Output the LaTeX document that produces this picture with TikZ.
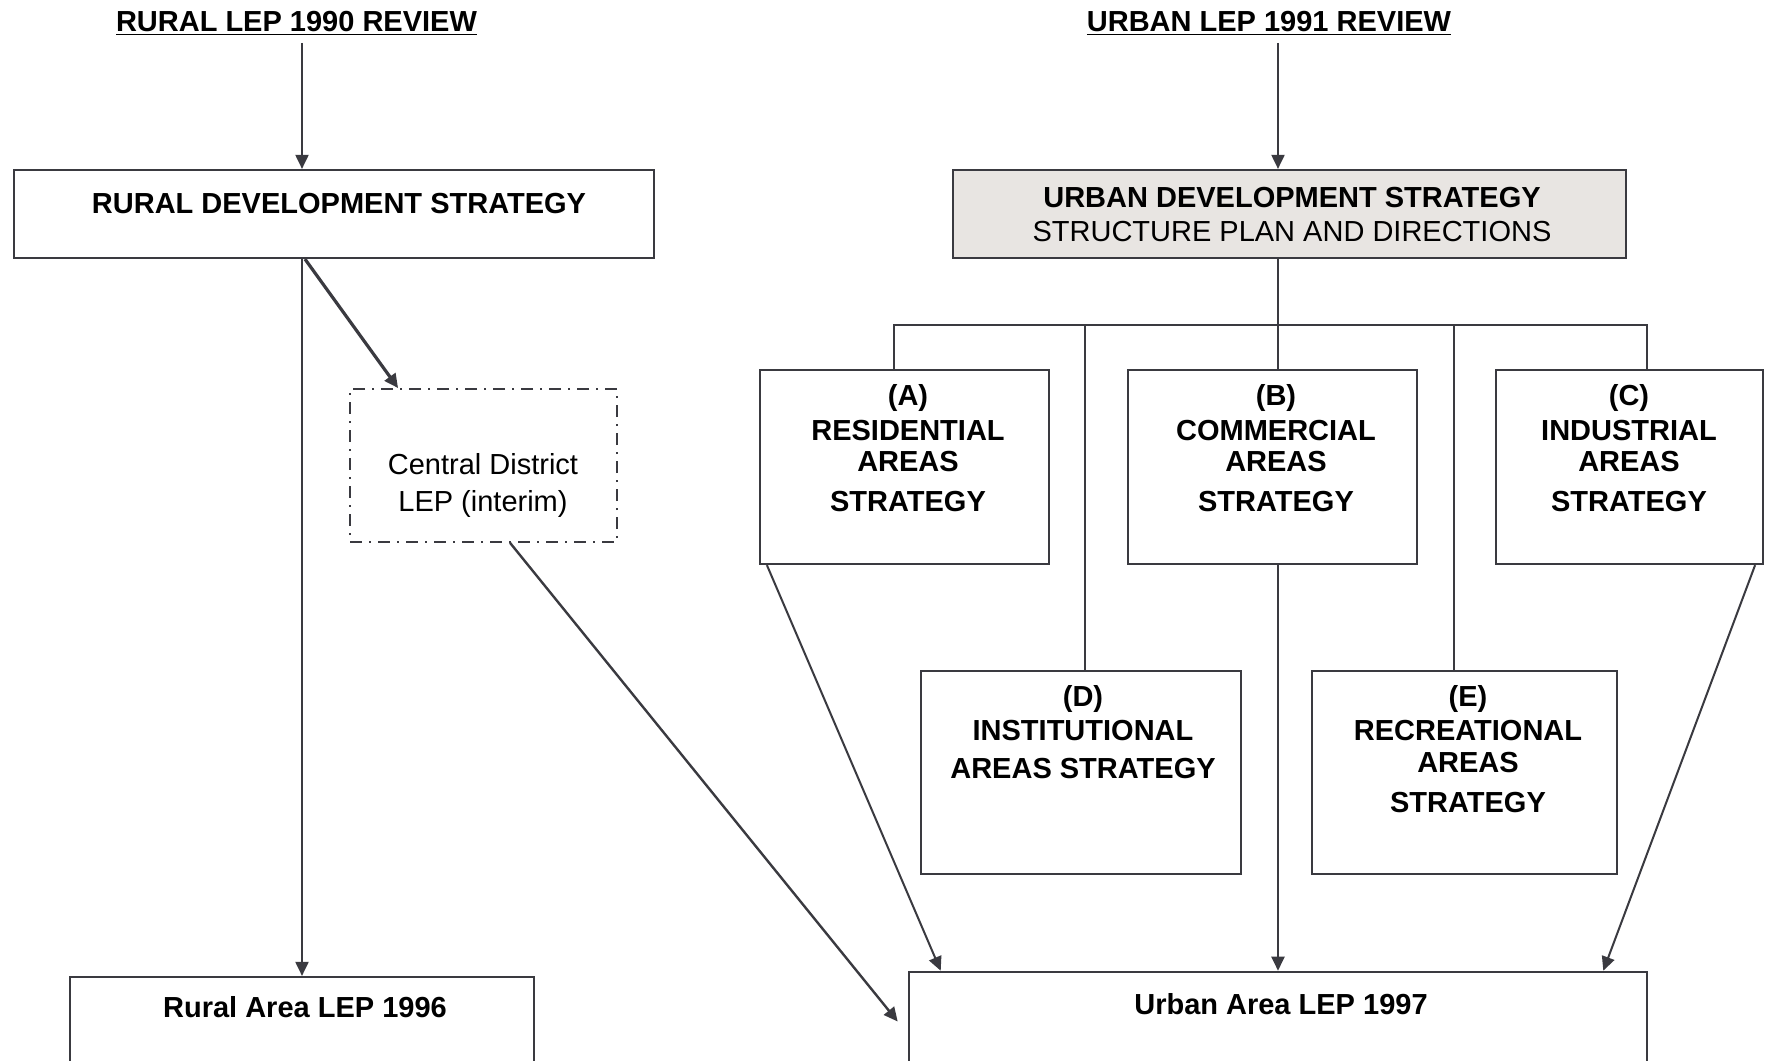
\documentclass[tikz,border=0pt]{standalone}
\usepackage{fontspec}
\setmainfont{Liberation Sans}
\usetikzlibrary{arrows.meta,calc,fit}
\definecolor{ln}{HTML}{3A3A40}
\definecolor{ufill}{HTML}{E8E5E2}
\begin{document}
\begin{tikzpicture}[x=0.5pt,y=-0.5pt,
  box/.style={draw=ln, line width=1.1pt, rectangle, inner sep=0pt},
  dbox/.style={box, line width=0.9pt, dash pattern=on 6pt off 3.5pt on 1pt off 3.5pt},
  txt/.style={font=\fontsize{14.5}{17}\selectfont, text height=10.4pt, text depth=0pt, inner sep=0pt},
  btxt/.style={txt, font=\fontsize{14.5}{17}\selectfont\bfseries},
  conn/.style={draw=ln, line width=1pt},
  arr/.style={conn, -{Triangle[length=7pt,width=6.5pt]}}]
\useasboundingbox (0,0) rectangle (1769,1061);
% titles
\node[btxt] (rt) at (296.5,21) {\underline{RURAL LEP 1990 REVIEW}};
\node[btxt] (ut) at (1269,21) {\underline{URBAN LEP 1991 REVIEW}};
% boxes
\node[box, fit={(14,170) (654,258)}] (rds) {};
\node[box, fill=ufill, fit={(953,170) (1626,258)}] (uds) {};
\node[dbox, fit={(350,389) (617,542)}] (cd) {};
\node[box, fit={(760,370) (1049,564)}] (A) {};
\node[box, fit={(1128,370) (1417,564)}] (B) {};
\node[box, fit={(1496,370) (1763,564)}] (C) {};
\node[box, fit={(921,671) (1241,874)}] (D) {};
\node[box, fit={(1312,671) (1617,874)}] (E) {};
\node[box, fit={(70,977) (534,1075)}] (ra) {};
\node[box, line width=1.3pt, fit={(909,972) (1647,1071)}] (uA) {};
% texts
\node[btxt] (rdst) at (339,203) {RURAL DEVELOPMENT STRATEGY};
\node[btxt] (udst1) at (1292,197) {URBAN DEVELOPMENT STRATEGY};
\node[txt] (udst2) at (1292,231) {STRUCTURE PLAN AND DIRECTIONS};
\node[txt] (cdt1) at (483,464) {Central District};
\node[txt] (cdt2) at (483,501) {LEP (interim)};
\node[btxt] (At1) at (908,395) {(A)};
\node[btxt] (At2) at (908,430) {RESIDENTIAL};
\node[btxt] (At3) at (908,461) {AREAS};
\node[btxt] (At4) at (908,501) {STRATEGY};
\node[btxt] (Bt1) at (1276,395) {(B)};
\node[btxt] (Bt2) at (1276,430) {COMMERCIAL};
\node[btxt] (Bt3) at (1276,461) {AREAS};
\node[btxt] (Bt4) at (1276,501) {STRATEGY};
\node[btxt] (Ct1) at (1629,395) {(C)};
\node[btxt] (Ct2) at (1629,430) {INDUSTRIAL};
\node[btxt] (Ct3) at (1629,461) {AREAS};
\node[btxt] (Ct4) at (1629,501) {STRATEGY};
\node[btxt] (Dt1) at (1083,696) {(D)};
\node[btxt] (Dt2) at (1083,730) {INSTITUTIONAL};
\node[btxt] (Dt3) at (1083,768) {AREAS STRATEGY};
\node[btxt] (Et1) at (1468,696) {(E)};
\node[btxt] (Et2) at (1468,730) {RECREATIONAL};
\node[btxt] (Et3) at (1468,762) {AREAS};
\node[btxt] (Et4) at (1468,802) {STRATEGY};
\node[btxt] (rat) at (305,1007) {Rural Area LEP 1996};
\node[btxt] (uat) at (1281,1004) {Urban Area LEP 1997};
% rural connectors
\coordinate (rx) at (302,0);
\draw[arr] ($(rt.south -| rx)+(0,11)$) -- (rds.north -| rx);
\draw[arr] (rds.south -| rx) -- (ra.north -| rx);
\draw[arr, line width=1.6pt] ($(rds.south -| rx)+(3,0)$) -- ($(cd.north west)+(49,0)$);
\draw[arr, line width=1.2pt] ($(cd.south west)+(161,0)$) -- ($(uA.west)+(-10,0)$);
% urban connectors
\coordinate (b1) at (894,325);
\coordinate (b2) at (1085,325);
\coordinate (b3) at (1278,325);
\coordinate (b4) at (1454,325);
\coordinate (b5) at (1647,325);
\draw[arr] ($(ut.south -| b3)+(0,11)$) -- (uds.north -| b3);
\draw[conn] (uds.south -| b3) -- (b3);
\draw[conn] (A.north -| b1) -- (b1) -- (b5) -- (C.north -| b5);
\draw[conn] (b2) -- (D.north -| b2);
\draw[conn] (b3) -- (B.north -| b3);
\draw[conn] (b4) -- (E.north -| b4);
\draw[arr] ($(A.south west)+(8,0)$) -- ($(uA.north west)+(33,0)$);
\draw[arr] (B.south -| b3) -- (uA.north -| b3);
\draw[arr] ($(C.south east)+(-9,0)$) -- ($(uA.north east)+(-45,0)$);
\end{tikzpicture}
\end{document}
